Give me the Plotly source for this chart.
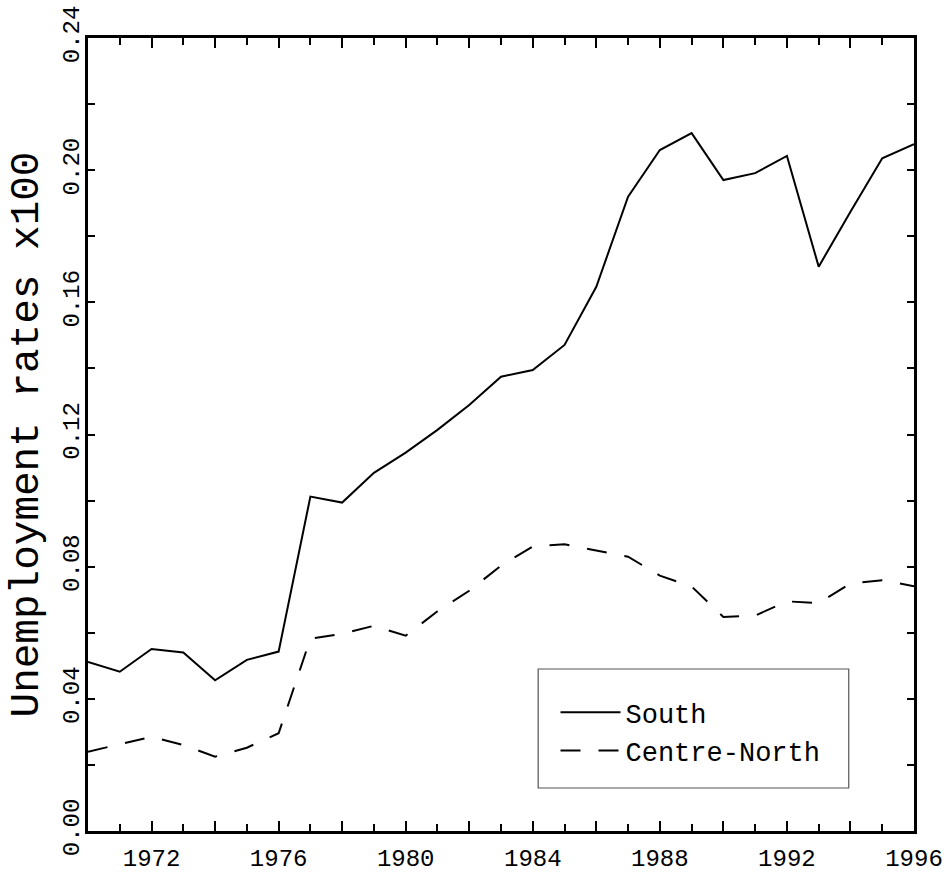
import plotly.graph_objects as go

# ---- data ----
years = list(range(1970, 1997))
south = [0.0512, 0.0482, 0.0551, 0.0540, 0.0456, 0.0518, 0.0543, 0.1012, 0.0994,
         0.1084, 0.1145, 0.1214, 0.1289, 0.1375, 0.1395, 0.1471, 0.1647, 0.1920,
         0.2061, 0.2112, 0.1970, 0.1991, 0.2043, 0.1708, 0.1874, 0.2036, 0.2079]
centre_north = [0.0240, 0.0263, 0.0285, 0.0260, 0.0225, 0.0252, 0.0296, 0.0582, 0.0597,
                0.0621, 0.0591, 0.0665, 0.0727, 0.0803, 0.0861, 0.0868, 0.0850, 0.0830,
                0.0773, 0.0740, 0.0648, 0.0652, 0.0695, 0.0690, 0.0749, 0.0759, 0.0741]

x_tickvals = list(range(1970, 1997, 2))
x_ticktext = ["", "1972", "", "1976", "", "1980", "", "1984", "", "1988", "", "1992", "", "1996"]
y_tickvals = [0.00, 0.02, 0.04, 0.06, 0.08, 0.10, 0.12, 0.14, 0.16, 0.18, 0.20, 0.22, 0.24]
y_ticktext = ["0.00", "", "0.04", "", "0.08", "", "0.12", "", "0.16", "", "0.20", "", "0.24"]

FONT = "Liberation Mono"

fig = go.Figure()
fig.add_trace(go.Scatter(x=years, y=south, mode="lines", name="South",
                         line=dict(color="black", width=2)))
fig.add_trace(go.Scatter(x=years, y=centre_north, mode="lines", name="Centre-North",
                         line=dict(color="black", width=2, dash="20px,18px")))

axis_common = dict(showline=True, linecolor="black", linewidth=2.5, mirror="ticks",
                   ticks="inside", tickcolor="black", tickwidth=1.5,
                   showgrid=False, zeroline=False, automargin=False,
                   tickfont=dict(family=FONT, size=24, color="black"))

fig.update_xaxes(range=[1970, 1996], tickmode="array", tickvals=x_tickvals,
                 ticktext=x_ticktext, ticklen=10, ticklabelstandoff=3,
                 minor=dict(ticks="inside", dtick=1, tick0=1970, ticklen=7,
                            tickwidth=1.5, tickcolor="black", showgrid=False),
                 **axis_common)
fig.update_yaxes(range=[0, 0.24], tickmode="array", tickvals=y_tickvals,
                 ticktext=y_ticktext, ticklen=7, tickangle=-90, ticklabelstandoff=-3,
                 title=dict(text="Unemployment rates x100",
                            font=dict(family=FONT, size=41, color="black"),
                            standoff=8),
                 **axis_common)

fig.add_shape(type="rect", xref="paper", yref="paper",
              x0=0.545, x1=0.921, y0=0.0542, y1=0.2043,
              line=dict(color="#555555", width=1.2), fillcolor="rgba(0,0,0,0)")

fig.update_layout(
    width=949, height=879,
    margin=dict(l=88, r=35, t=38, b=48, pad=0),
    paper_bgcolor="white", plot_bgcolor="white",
    font=dict(family=FONT, color="black"),
    showlegend=True,
    legend=dict(x=0.566, y=0.18, xanchor="left", yanchor="top",
                bgcolor="rgba(0,0,0,0)", borderwidth=0,
                font=dict(family=FONT, size=27, color="black"),
                itemwidth=60, tracegroupgap=0),
)

fig.write_html("out.html")
